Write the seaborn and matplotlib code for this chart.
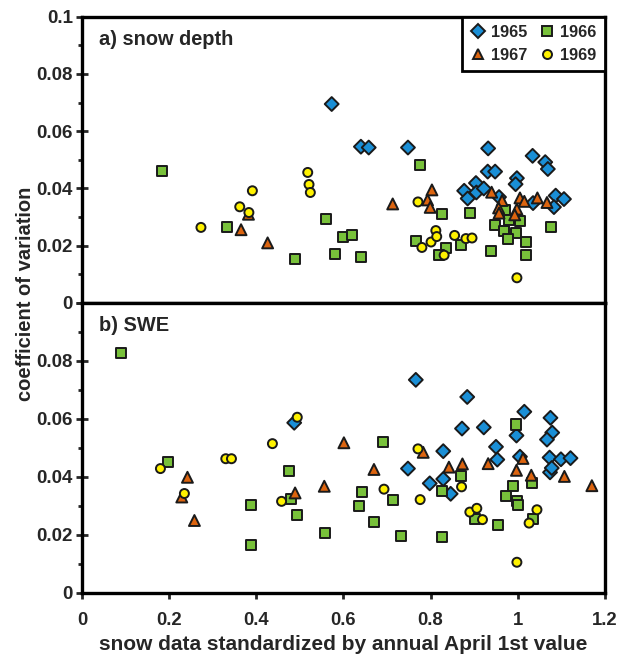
import numpy as np
import pandas as pd
import matplotlib
matplotlib.use("Agg")
import matplotlib.pyplot as plt
from matplotlib.ticker import MultipleLocator, FixedLocator
import seaborn as sns

# ---- data: (standardized snow value, coefficient of variation) ----
# a) snow depth
depth_1965_x = [0.573, 0.640, 0.658, 0.748, 0.932, 0.931, 0.948, 1.034, 1.063, 1.069, 0.998,
                0.995, 0.904, 0.877, 0.885, 0.905, 0.922, 0.957, 1.035, 1.087, 1.106, 1.083]
depth_1965_y = [0.0695, 0.0546, 0.0543, 0.0543, 0.0540, 0.0459, 0.0459, 0.0514, 0.0492, 0.0468, 0.0436,
                0.0415, 0.0419, 0.0392, 0.0365, 0.0386, 0.0400, 0.0370, 0.0349, 0.0375, 0.0363, 0.0335]
depth_1966_x = [0.184, 0.333, 0.489, 0.559, 0.580, 0.600, 0.619, 0.641, 0.775, 0.766, 0.836, 0.820, 0.870,
                0.827, 0.891, 0.970, 0.948, 0.979, 1.005, 0.969, 0.997, 0.978, 1.018, 1.077, 0.938, 1.020]
depth_1966_y = [0.0460, 0.0264, 0.0154, 0.0294, 0.0170, 0.0232, 0.0236, 0.0160, 0.0481, 0.0215, 0.0192, 0.0169, 0.0204,
                0.0312, 0.0314, 0.0326, 0.0274, 0.0291, 0.0287, 0.0250, 0.0245, 0.0224, 0.0213, 0.0264, 0.0180, 0.0169]
depth_1967_x = [0.365, 0.382, 0.426, 0.713, 0.803, 0.793, 0.799, 0.940, 0.964, 0.956, 0.957, 1.005,
                1.015, 0.998, 0.993, 1.045, 1.067]
depth_1967_y = [0.0256, 0.0310, 0.0210, 0.0346, 0.0395, 0.0360, 0.0334, 0.0387, 0.0358, 0.0332, 0.0314, 0.0367,
                0.0355, 0.0328, 0.0308, 0.0367, 0.0351]
depth_1969_x = [0.273, 0.362, 0.383, 0.391, 0.518, 0.521, 0.524, 0.771, 0.780, 0.801, 0.812, 0.814,
                0.831, 0.855, 0.881, 0.895, 0.998]
depth_1969_y = [0.0264, 0.0336, 0.0316, 0.0392, 0.0456, 0.0414, 0.0386, 0.0353, 0.0194, 0.0213, 0.0253, 0.0232,
                0.0167, 0.0236, 0.0225, 0.0227, 0.0088]

# b) SWE
swe_1965_x = [0.487, 0.766, 0.884, 1.015, 1.075, 0.872, 0.922, 0.997, 1.079, 1.067, 0.950, 0.953,
              1.073, 1.099, 1.121, 1.074, 1.078, 1.005, 0.748, 0.829, 0.829, 0.798, 0.846]
swe_1965_y = [0.0587, 0.0735, 0.0676, 0.0625, 0.0604, 0.0567, 0.0571, 0.0543, 0.0553, 0.0529, 0.0504, 0.0460,
              0.0467, 0.0461, 0.0465, 0.0416, 0.0431, 0.0470, 0.0429, 0.0489, 0.0393, 0.0378, 0.0342]
swe_1966_x = [0.089, 0.198, 0.474, 0.388, 0.479, 0.493, 0.557, 0.388, 0.691, 0.643, 0.713, 0.635, 0.671,
              0.732, 0.825, 0.826, 0.996, 0.869, 0.989, 0.972, 0.999, 1.001, 1.032, 0.901, 0.954, 1.034]
swe_1966_y = [0.0829, 0.0451, 0.0422, 0.0302, 0.0324, 0.0269, 0.0208, 0.0166, 0.0520, 0.0348, 0.0322, 0.0301, 0.0245,
              0.0196, 0.0194, 0.0351, 0.0581, 0.0403, 0.0368, 0.0333, 0.0316, 0.0305, 0.0380, 0.0256, 0.0234, 0.0256]
swe_1967_x = [0.242, 0.229, 0.258, 0.489, 0.556, 0.601, 0.670, 0.783, 0.842, 0.873, 0.932, 1.012,
              0.997, 1.031, 1.107, 1.170]
swe_1967_y = [0.0399, 0.0331, 0.0250, 0.0345, 0.0368, 0.0518, 0.0426, 0.0485, 0.0434, 0.0445, 0.0446, 0.0464,
              0.0423, 0.0406, 0.0402, 0.0370]
swe_1969_x = [0.494, 0.437, 0.180, 0.330, 0.343, 0.235, 0.458, 0.693, 0.771, 0.776, 0.871, 0.890,
              0.906, 0.919, 1.044, 1.026, 0.998]
swe_1969_y = [0.0606, 0.0515, 0.0429, 0.0463, 0.0463, 0.0343, 0.0316, 0.0358, 0.0497, 0.0322, 0.0366, 0.0279,
              0.0292, 0.0253, 0.0287, 0.0241, 0.0106]

years = ["1965", "1966", "1967", "1969"]
legend_order = ["1965", "1967", "1966", "1969"]   # column-wise fill -> rows 1965/1966, 1967/1969
x_ticks = [0, 0.2, 0.4, 0.6, 0.8, 1.0, 1.2]
x_labels = ["0", "0.2", "0.4", "0.6", "0.8", "1", "1.2"]
y_ticks = [0, 0.02, 0.04, 0.06, 0.08, 0.1]
y_labels = ["0", "0.02", "0.04", "0.06", "0.08", "0.1"]


def make_df(xs, ys):
    parts = []
    for yr, xv, yv in zip(years, xs, ys):
        parts.append(pd.DataFrame({"x": xv, "cv": yv, "year": yr}))
    return pd.concat(parts, ignore_index=True)


df_depth = make_df([depth_1965_x, depth_1966_x, depth_1967_x, depth_1969_x],
                   [depth_1965_y, depth_1966_y, depth_1967_y, depth_1969_y])
df_swe = make_df([swe_1965_x, swe_1966_x, swe_1967_x, swe_1969_x],
                 [swe_1965_y, swe_1966_y, swe_1967_y, swe_1969_y])

palette = {"1965": "#1a8fd6", "1966": "#78c13a", "1967": "#dc640f", "1969": "#fff200"}
markers = {"1965": "D", "1966": "s", "1967": "^", "1969": "o"}
sizes = {"1965": 50, "1966": 52, "1967": 62, "1969": 42}

sns.set_style("ticks")
plt.rcParams["font.family"] = ["Liberation Sans", "DejaVu Sans"]
plt.rcParams["font.weight"] = "bold"

fig = plt.figure(figsize=(6.23, 6.63), dpi=100)
left, right = 0.1316, 0.971
ax1 = fig.add_axes([left, 0.543, right - left, 0.9748 - 0.543])
ax2 = fig.add_axes([left, 0.1056, right - left, 0.543 - 0.1056])

for ax, df, lab in [(ax1, df_depth, "a) snow depth"), (ax2, df_swe, "b) SWE")]:
    sns.scatterplot(data=df, x="x", y="cv", hue="year", style="year", size="year",
                    palette=palette, markers=markers, sizes=sizes, hue_order=years,
                    edgecolor="#1a1a1a", linewidth=1.4, alpha=1, ax=ax,
                    legend=(ax is ax1), zorder=3)
    ax.set_xlim(0, 1.2)
    ax.set_ylim(0, 0.1)
    ax.set_xlabel("")
    ax.set_ylabel("")
    for sp in ax.spines.values():
        sp.set_linewidth(2.4)
        sp.set_color("black")
    ax.yaxis.set_major_locator(FixedLocator(y_ticks))
    ax.yaxis.set_minor_locator(MultipleLocator(0.01))
    ax.xaxis.set_major_locator(FixedLocator(x_ticks))
    ax.tick_params(axis="y", which="major", direction="inout", length=8, width=2,
                   labelsize=13.5, pad=2.5)
    ax.tick_params(axis="y", which="minor", direction="out", length=3, width=2)
    ax.tick_params(axis="x", which="major", direction="out", length=4, width=2,
                   labelsize=13.3, pad=10)
    ax.text(0.032, 0.955, lab, transform=ax.transAxes, fontsize=14.4, fontweight="bold",
            va="top", ha="left")

ax1.set_yticklabels(y_labels)
ax1.set_xticklabels([])
ax2.set_yticklabels(y_labels[:-1] + [""])
ax2.set_xticklabels(x_labels)
ax2.set_xlabel("snow data standardized by annual April 1st value", fontsize=15,
               fontweight="bold", labelpad=4)
fig.text(0.041, 0.557, "coefficient of variation", rotation=90, fontsize=14.5,
         fontweight="bold", ha="center", va="center")

# rebuild seaborn's legend with two columns, row order 1965 1966 / 1967 1969
old = ax1.get_legend()
hmap = {t.get_text(): h for t, h in zip(old.get_texts(), old.legend_handles)}
old.remove()
leg = ax1.legend([hmap[k] for k in legend_order], legend_order, loc="upper right",
                 ncol=2, frameon=True, fancybox=False, borderaxespad=0,
                 prop={"size": 11.7, "weight": "bold"}, handlelength=0.9,
                 handletextpad=0.35, columnspacing=0.8, borderpad=0.5,
                 labelspacing=0.5, edgecolor="black")
leg.get_frame().set_linewidth(2)
leg.get_frame().set_alpha(1)
leg.set_zorder(5)

fig.savefig("out.png", dpi=100)
